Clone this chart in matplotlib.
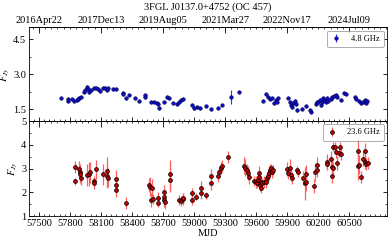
import matplotlib
matplotlib.use("Agg")
import matplotlib.pyplot as plt
from matplotlib.ticker import MultipleLocator, FixedLocator, FixedFormatter
import numpy as np

plt.rcParams['font.family'] = ['Liberation Serif', 'DejaVu Serif']
plt.rcParams['mathtext.fontset'] = 'stix'

title = "3FGL J0137.0+4752 (OC 457)"

# 4.8 GHz
mjd_48 = [57716, 57780, 57786, 57818, 57844, 57866, 57876, 57892, 57909, 57941, 57950, 57970,
          57976, 57989, 58005, 58030, 58053, 58076, 58095, 58124, 58143, 58156, 58165, 58213,
          58246, 58310, 58317, 58343, 58375, 58433, 58464, 58526, 58529, 58584, 58616, 58638,
          58648, 58657, 58712, 58734, 58760, 58792, 58834, 58857, 58873, 58889, 58985, 59001,
          59033, 59056, 59120, 59168, 59236, 59268, 59361, 59438, 59670, 59699, 59715, 59734,
          59750, 59773, 59789, 59805, 59809, 59911, 59924, 59934, 59949, 59959, 59975, 59982,
          59998, 60040, 60085, 60120, 60133, 60175, 60185, 60200, 60214, 60223, 60233, 60245,
          60258, 60272, 60287, 60297, 60320, 60335, 60351, 60368, 60383, 60416, 60454, 60470,
          60551, 60567, 60593, 60609, 60634, 60650, 60663, 60673]
flux_48 = [1.97, 1.85, 1.93, 1.93, 1.87, 1.90, 1.95, 2.00, 2.01, 2.25, 2.32, 2.47,
           2.35, 2.25, 2.32, 2.42, 2.40, 2.37, 2.29, 2.40, 2.42, 2.32, 2.40, 2.37,
           2.37, 2.21, 2.14, 1.97, 2.11, 1.97, 1.87, 2.11, 2.01, 1.81, 1.81, 1.78,
           1.71, 1.57, 1.80, 2.01, 1.97, 1.76, 1.73, 1.82, 1.90, 1.94, 1.68, 1.54,
           1.61, 1.57, 1.65, 1.50, 1.54, 1.68, 2.01, 2.25, 1.87, 2.14, 2.01, 1.93,
           1.97, 1.76, 1.90, 1.82, 1.97, 1.97, 1.82, 1.68, 1.61, 1.76, 1.87, 1.71,
           1.47, 1.51, 1.65, 1.47, 1.40, 1.73, 1.82, 1.80, 1.90, 1.68, 1.82, 1.97,
           1.90, 1.82, 1.97, 1.87, 1.93, 2.04, 2.08, 2.11, 2.01, 1.90, 2.18, 2.15,
           2.01, 1.93, 1.85, 1.78, 1.81, 1.90, 1.76, 1.85]
err_48 = [0.04, 0.05, 0.04, 0.04, 0.05, 0.04, 0.04, 0.05, 0.04, 0.06, 0.05, 0.07,
          0.05, 0.05, 0.05, 0.05, 0.04, 0.05, 0.04, 0.05, 0.04, 0.05, 0.04, 0.04,
          0.04, 0.05, 0.05, 0.04, 0.05, 0.05, 0.04, 0.05, 0.05, 0.04, 0.04, 0.04,
          0.04, 0.05, 0.04, 0.05, 0.04, 0.04, 0.04, 0.04, 0.04, 0.05, 0.05, 0.05,
          0.04, 0.04, 0.04, 0.04, 0.04, 0.04, 0.30, 0.05, 0.05, 0.05, 0.04, 0.05,
          0.04, 0.05, 0.04, 0.06, 0.05, 0.05, 0.05, 0.06, 0.08, 0.05, 0.05, 0.06,
          0.08, 0.04, 0.04, 0.04, 0.05, 0.06, 0.05, 0.08, 0.10, 0.10, 0.06, 0.06,
          0.06, 0.05, 0.06, 0.05, 0.05, 0.05, 0.04, 0.05, 0.04, 0.04, 0.05, 0.04,
          0.05, 0.04, 0.04, 0.04, 0.04, 0.05, 0.04, 0.05]

# 23.6 GHz
mjd_236 = [57847, 57851, 57892, 57895, 57902, 57909, 57963, 57982, 57996, 58030, 58037, 58053,
           58124, 58156, 58156, 58165, 58246, 58246, 58246, 58343, 58568, 58577, 58590, 58587,
           58606, 58648, 58648, 58705, 58709, 58712, 58719, 58767, 58767, 58857, 58873, 58889,
           58895, 58985, 58985, 59018, 59069, 59069, 59114, 59168, 59168, 59236, 59243, 59265,
           59275, 59329, 59484, 59490, 59516, 59523, 59532, 59580, 59597, 59613, 59619, 59629,
           59629, 59635, 59645, 59645, 59661, 59677, 59699, 59709, 59719, 59725, 59734, 59741,
           59750, 59763, 59901, 59911, 59927, 59934, 59944, 59998, 60004, 60053, 60069, 60085,
           60085, 60159, 60166, 60185, 60185, 60281, 60287, 60320, 60330, 60330, 60343, 60346,
           60358, 60368, 60383, 60399, 60409, 60416, 60583, 60583, 60592, 60609, 60634, 60650,
           60650, 60663, 60680]
flux_236 = [3.08, 2.46, 2.97, 2.87, 2.76, 2.59, 2.73, 2.76, 2.84, 2.47, 2.40, 2.97,
            2.76, 2.89, 2.68, 2.61, 2.55, 2.31, 2.09, 1.53, 2.31, 2.24, 2.17, 1.66,
            1.72, 1.56, 1.75, 2.02, 1.81, 1.67, 1.60, 2.76, 2.50, 1.67, 1.63, 1.70,
            1.75, 1.96, 1.67, 1.81, 2.19, 1.96, 1.88, 2.70, 2.38, 2.70, 2.84, 3.03,
            3.12, 3.50, 3.12, 3.03, 2.94, 2.80, 2.65, 2.47, 2.44, 2.38, 2.52, 2.65,
            2.80, 2.31, 2.17, 2.44, 2.38, 2.44, 2.44, 2.59, 2.68, 2.80, 2.94, 3.01,
            2.87, 2.94, 2.98, 2.80, 3.03, 2.73, 2.59, 2.94, 2.84, 2.59, 2.38, 2.44,
            2.76, 2.26, 2.84, 2.94, 3.15, 3.29, 3.18, 3.39, 3.08, 2.68, 3.01, 3.92,
            3.92, 3.71, 3.24, 3.67, 3.92, 3.60, 3.74, 3.12, 3.15, 2.65, 3.40, 3.74,
            3.29, 3.18, 3.22]
err_236 = [0.25, 0.15, 0.35, 0.30, 0.35, 0.30, 0.45, 0.50, 0.45, 0.20, 0.25, 0.40,
           0.45, 0.60, 0.50, 0.40, 0.40, 0.30, 0.30, 0.25, 0.30, 0.40, 0.40, 0.30,
           0.20, 0.20, 0.25, 0.30, 0.25, 0.30, 0.30, 0.60, 0.50, 0.20, 0.20, 0.25,
           0.20, 0.20, 0.20, 0.15, 0.30, 0.25, 0.15, 0.30, 0.30, 0.25, 0.25, 0.25,
           0.25, 0.25, 0.35, 0.35, 0.25, 0.30, 0.30, 0.20, 0.25, 0.20, 0.25, 0.25,
           0.30, 0.25, 0.20, 0.20, 0.20, 0.25, 0.25, 0.25, 0.25, 0.30, 0.25, 0.20,
           0.25, 0.20, 0.30, 0.25, 0.35, 0.25, 0.25, 0.15, 0.20, 0.30, 0.70, 0.40,
           0.40, 0.30, 0.35, 0.30, 0.35, 0.30, 0.25, 0.35, 0.30, 0.30, 0.25, 0.20,
           0.20, 0.25, 0.30, 0.20, 0.20, 0.25, 0.50, 0.60, 0.40, 0.25, 0.30, 0.35,
           0.30, 0.25, 0.25]

mjd_ticks = [57500, 57800, 58100, 58400, 58700, 59000, 59300, 59600, 59900, 60200, 60500]
date_ticks = [57500, 58100, 58700, 59300, 59900, 60500]
date_labels = ["2016Apr22", "2017Dec13", "2019Aug05", "2021Mar27", "2022Nov17", "2024Jul09"]

xlim = (57405, 60865)

fig = plt.figure(figsize=(3.89, 2.43), dpi=100)
W, H = 389.0, 243.0
left, right = 29 / W, 387 / W
y_top, y_mid, y_bot = 1 - 27.5 / H, 1 - 121 / H, 1 - 216 / H
ax1 = fig.add_axes([left, y_mid, right - left, y_top - y_mid])
ax2 = fig.add_axes([left, y_bot, right - left, y_mid - y_bot])

fs = 7.5

ax1.errorbar(mjd_48, flux_48, yerr=err_48, fmt='o', ms=2.5, mfc='#1010c8', mec='#000060',
             mew=0.5, ecolor='#3030ff', elinewidth=0.8, capsize=0, label='4.8 GHz', zorder=3)
ax2.errorbar(mjd_236, flux_236, yerr=err_236, fmt='o', ms=2.7, mfc='#dd0000', mec='black',
             mew=0.6, ecolor='#ff6060', elinewidth=0.9, capsize=0, label='23.6 GHz', zorder=3)

ax1.set_ylim(1.0, 5.0)
ax1.yaxis.set_major_locator(FixedLocator([1.5, 3.0, 4.5]))
ax1.yaxis.set_minor_locator(FixedLocator([2.25, 3.75]))
ax1.yaxis.set_major_formatter(FixedFormatter(["1.5", "3.0", "4.5"]))
ax2.set_ylim(1, 5)
ax2.yaxis.set_major_locator(MultipleLocator(1))
ax2.yaxis.set_minor_locator(MultipleLocator(0.5))

date_minor = np.arange(57500 - 60 * 2, 60900, 60)

for i, ax in enumerate((ax1, ax2)):
    ax.set_xlim(*xlim)
    ax.xaxis.set_major_locator(FixedLocator(mjd_ticks))
    ax.xaxis.set_minor_locator(MultipleLocator(50))
    ax.tick_params(axis='both', which='both', direction='in', labelsize=fs, pad=2)
    ax.tick_params(axis='y', which='both', right=True)
    ax.tick_params(which='major', length=3, width=0.6)
    ax.tick_params(which='minor', length=1.5, width=0.5)
    for s in ax.spines.values():
        s.set_linewidth(0.6)
    ax.set_ylabel(r"$F_{Jy}$", fontsize=fs, labelpad=1)
    sec = ax.secondary_xaxis('top')
    sec.xaxis.set_major_locator(FixedLocator(date_ticks))
    sec.xaxis.set_minor_locator(FixedLocator(date_minor))
    sec.tick_params(which='both', direction='in', labelsize=fs, pad=1.5)
    sec.tick_params(which='major', length=4, width=0.6)
    sec.tick_params(which='minor', length=1.5, width=0.5)
    sec.spines['top'].set_linewidth(0.6)
    if i == 0:
        sec.xaxis.set_major_formatter(FixedFormatter(date_labels))
    else:
        sec.set_xticklabels([])
    leg = ax.legend(loc='upper right', fontsize=6, frameon=True, fancybox=True,
                    borderpad=0.5, handlelength=1.2, handletextpad=1.2,
                    borderaxespad=0.4, edgecolor='#888888')
    leg.get_frame().set_linewidth(0.6)

ax1.tick_params(axis='x', labelbottom=False)
ax2.set_xlabel("MJD", fontsize=fs, labelpad=1)
fig.text((left + right) / 2, 1 - 7 / H, title, ha='center', va='center', fontsize=fs)

fig.savefig("out.png", dpi=100)
